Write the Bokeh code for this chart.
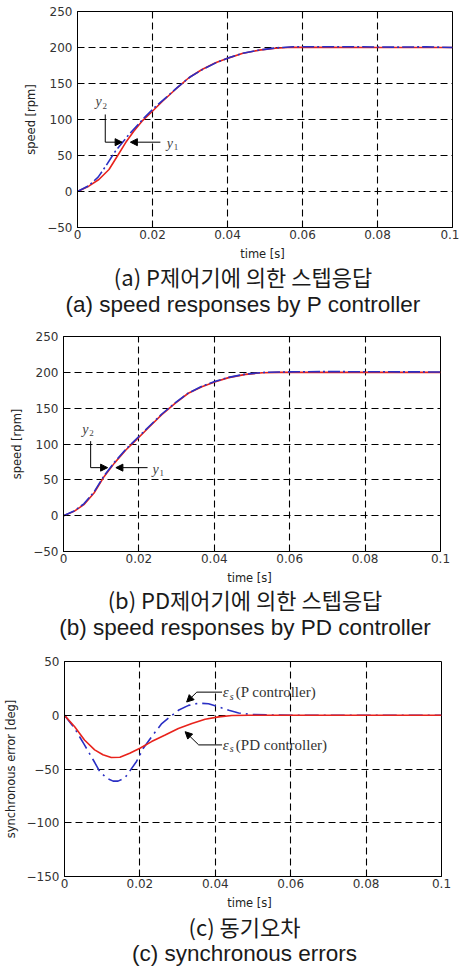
from bokeh.plotting import figure
from bokeh.models import Range1d, FixedTicker, Label, Arrow, NormalHead
from bokeh.embed import file_html
from bokeh.resources import INLINE

# ---------------- data ----------------
x_ticks = [0, 0.02, 0.04, 0.06, 0.08, 0.1]
x_tick_labels = ["0", "0.02", "0.04", "0.06", "0.08", "0.1"]
speed_ticks = [-50, 0, 50, 100, 150, 200, 250]
error_ticks = [-150, -100, -50, 0, 50]
x_title = "time [s]"

# (a) P controller: speed responses y1 (red) and y2 (blue)
a_t_y1 = [0, 0.003, 0.0057, 0.0084, 0.0106, 0.0128, 0.015, 0.0172, 0.0195, 0.0226,
          0.0261, 0.0297, 0.0332, 0.0368, 0.0404, 0.0439, 0.0484, 0.0528, 0.0572,
          0.065, 0.08, 0.1]
a_v_y1 = [0, 7.4, 16.7, 30.6, 49, 67.6, 83.8, 97.7, 109, 125,
          141.7, 158, 169.4, 178.7, 185.6, 191.7, 196.3, 199, 200.3,
          200.2, 200, 200]
a_t_y2 = [0, 0.003, 0.0055, 0.0075, 0.0101, 0.0137, 0.0177, 0.0204, 0.0235, 0.0265,
          0.03, 0.0335, 0.037, 0.0405, 0.044, 0.0485, 0.053, 0.0575, 0.065, 0.075,
          0.085, 0.093, 0.1]
a_v_y2 = [0, 8, 20, 35, 56, 79, 102, 116, 130, 144,
          159, 170, 179, 186, 192, 196.5, 199.5, 201, 201, 201,
          200.5, 201, 200]

# (b) PD controller: speed responses
b_t = [0, 0.0028, 0.0054, 0.0081, 0.0108, 0.0135, 0.0166, 0.0193, 0.0224, 0.026,
       0.0296, 0.0331, 0.0367, 0.0403, 0.0438, 0.0483, 0.0528, 0.0572, 0.07, 0.1]
b_v_y1 = [0, 6, 15.3, 31.6, 54.8, 73.3, 92, 105.8, 122, 140.6,
          156.8, 170.8, 180, 187, 192.6, 197.2, 199.5, 200, 200, 200]
b_v_y2 = [0, 6.5, 16.5, 33, 56, 74.5, 93, 107, 123, 141.5,
          157.5, 171, 180.5, 187.5, 193, 197.5, 199.8, 200.5, 201, 200.5]

# (c) synchronous errors
c_t_pd = [0, 0.0027, 0.0053, 0.008, 0.0102, 0.0124, 0.0147, 0.0173, 0.02, 0.0231,
          0.0267, 0.0302, 0.0338, 0.0373, 0.0409, 0.0444, 0.0489, 0.06, 0.1]
c_e_pd = [0, -10.7, -23, -32.2, -36.8, -39.3, -39, -35.3, -30.7, -24.5,
          -18.4, -12.3, -7.7, -3.7, -1.5, -0.3, 0, 0, 0]
c_t_p = [0, 0.0027, 0.0053, 0.0076, 0.0093, 0.0111, 0.0129, 0.0142, 0.016, 0.0173,
         0.0191, 0.0209, 0.0231, 0.0258, 0.028, 0.0302, 0.0329, 0.0356, 0.0382, 0.0409,
         0.0436, 0.0462, 0.0498, 0.055, 0.062, 0.1]
c_e_p = [0, -12.3, -27.6, -41.4, -52, -58.3, -61.3, -61.3, -58.3, -52,
         -43, -30.7, -20, -7.7, -1.5, 4.6, 9.2, 11.3, 10.7, 7.7,
         4.6, 2.1, 0.6, 0.3, 0, 0]

captions_a = ["(a) P제어기에 의한 스텝응답", "(a) speed responses by P controller"]
captions_b = ["(b) PD제어기에 의한 스텝응답", "(b) speed responses by PD controller"]
captions_c = ["(c) 동기오차", "(c) synchronous errors"]

RED = "#e8231c"
BLUE = "#2a2fc4"
TICK_FONT = "DejaVu Sans"


def make_fig(ylo, yhi, yticks, ylabel, left, fw, fh, top, bottom, right, lab_standoff):
    p = figure(frame_width=fw, frame_height=fh,
               x_range=Range1d(0, 0.1), y_range=Range1d(ylo, yhi),
               min_border_left=left, min_border_right=right,
               min_border_top=top, min_border_bottom=bottom,
               output_backend="svg", toolbar_location=None)
    p.outline_line_color = "black"
    p.outline_line_width = 1
    p.background_fill_color = "white"
    p.border_fill_color = "white"
    for ax in (p.xaxis[0], p.yaxis[0]):
        ax.axis_line_color = "black"
        ax.major_tick_in = 3
        ax.major_tick_out = 0
        ax.minor_tick_line_color = None
        ax.major_tick_line_color = "black"
        ax.major_label_text_font = TICK_FONT
        ax.major_label_text_font_size = "12px"
        ax.major_label_text_color = "#333333"
        ax.axis_label_text_font = TICK_FONT
        ax.axis_label_text_font_size = "11.5px"
        ax.axis_label_text_font_style = "normal"
        ax.axis_label_text_color = "#222222"
    p.xaxis.ticker = FixedTicker(ticks=x_ticks)
    p.xaxis.major_label_overrides = dict(zip(x_ticks, x_tick_labels))
    p.yaxis.ticker = FixedTicker(ticks=yticks)
    p.xaxis.major_label_standoff = 2
    p.yaxis.major_label_standoff = 5
    p.yaxis.axis_label = ylabel
    p.yaxis.axis_label_standoff = lab_standoff
    p.xgrid.ticker = FixedTicker(ticks=x_ticks)
    p.ygrid.ticker = FixedTicker(ticks=yticks)
    for g in (p.xgrid[0], p.ygrid[0]):
        g.grid_line_color = "black"
        g.grid_line_dash = "7 4"
        g.grid_line_width = 1.1
        g.grid_line_alpha = 1.0
    return p


def caption_fig(lines, xt, cx, h, yt, y1, y2):
    # strip below each panel: x-axis title and the two caption lines
    c = figure(width=459, height=h, x_range=Range1d(0, 459), y_range=Range1d(h, 0),
               x_axis_type=None, y_axis_type=None, min_border=0,
               output_backend="svg", toolbar_location=None)
    c.outline_line_color = None
    c.xgrid.visible = False
    c.ygrid.visible = False
    c.background_fill_color = "white"
    c.border_fill_color = "white"
    ko, en = lines
    c.add_layout(Label(x=xt, y=yt, text=x_title, text_align="center", text_baseline="middle",
                       text_font=TICK_FONT, text_font_size="11.5px", text_color="#222222"))
    c.add_layout(Label(x=cx, y=y1, text=ko, text_align="center", text_baseline="middle",
                       text_font="Noto Sans CJK KR", text_font_size="22px",
                       text_color="#1a1a1a"))
    c.add_layout(Label(x=cx, y=y2, text=en, text_align="center", text_baseline="middle",
                       text_font="Liberation Sans", text_font_size="22.5px",
                       text_color="#1a1a1a"))
    return c


def sym(p, x, y, main, sub, size=14):
    p.add_layout(Label(x=x, y=y, text=main, text_align="left", text_baseline="middle",
                       text_font="Liberation Serif", text_font_style="italic",
                       text_font_size=f"{size}px", text_color="#444444"))
    p.add_layout(Label(x=x, y=y, x_offset=size * 0.5, y_offset=-4, text=sub,
                       text_align="left", text_baseline="middle",
                       text_font="Liberation Serif", text_font_size=f"{int(size*0.7)}px",
                       text_color="#444444"))


def arrow(p, x0, y0, x1, y1, head=True):
    p.add_layout(Arrow(end=NormalHead(size=7, fill_color="black", line_color="black") if head else None,
                       x_start=x0, y_start=y0, x_end=x1, y_end=y1,
                       line_color="black", line_width=1))


# ---------- (a) ----------
pa = make_fig(-50, 250, speed_ticks, "speed [rpm]", 77, 375, 216, 11, 17, 7, 6)
pa.line(a_t_y1, a_v_y1, line_color=RED, line_width=1.6)
pa.line(a_t_y2, a_v_y2, line_color=BLUE, line_width=1.6, line_dash="12 3 2 3")
sym(pa, 0.0048, 125, "y", "2")
arrow(pa, 0.0074, 107, 0.0074, 68.5, head=False)
arrow(pa, 0.0074, 68.5, 0.0119, 68.5)
arrow(pa, 0.0221, 68.5, 0.0141, 68.5)
sym(pa, 0.0238, 67, "y", "1")
ca = caption_fig(captions_a, 262, 242.5, 74, 9, 31, 60)

# ---------- (b) ----------
pb = make_fig(-50, 250, speed_ticks, "speed [rpm]", 63, 377, 215, 18, 17, 11, 6)
pb.line(b_t, b_v_y1, line_color=RED, line_width=1.6)
pb.line(b_t, b_v_y2, line_color=BLUE, line_width=1.6, line_dash="12 3 2 3")
sym(pb, 0.005, 120.5, "y", "2")
arrow(pb, 0.0072, 104, 0.0072, 67, head=False)
arrow(pb, 0.0072, 67, 0.0117, 67)
arrow(pb, 0.0223, 67, 0.0139, 67)
sym(pb, 0.0236, 65, "y", "1")
cb = caption_fig(captions_b, 249, 244.5, 72, 9, 30.5, 59)

# ---------- (c) ----------
pc = make_fig(-150, 50, error_ticks, "synchronous error [deg]", 63, 377, 215, 21, 17, 11, 6)
pc.line(c_t_p, c_e_p, line_color=BLUE, line_width=1.6, line_dash="14 5 2 5")
pc.line(c_t_pd, c_e_pd, line_color=RED, line_width=1.6)
arrow(pc, 0.0418, 21.5, 0.0351, 21.5, head=False)
arrow(pc, 0.0351, 21.5, 0.0324, 12.3)
arrow(pc, 0.0418, -27.6, 0.0356, -27.6, head=False)
arrow(pc, 0.0356, -27.6, 0.032, -15.3)
for yy, txt in ((21.5, "(P controller)"), (-27.6, "(PD controller)")):
    pc.add_layout(Label(x=0.042, y=yy, text="ε", text_align="left", text_baseline="middle",
                        text_font="Liberation Serif", text_font_style="italic",
                        text_font_size="15px", text_color="#333333"))
    pc.add_layout(Label(x=0.042, y=yy, x_offset=7, y_offset=-4, text="s", text_align="left",
                        text_baseline="middle", text_font="Liberation Serif",
                        text_font_style="italic", text_font_size="10px", text_color="#333333"))
    pc.add_layout(Label(x=0.042, y=yy, x_offset=13, text=txt, text_align="left",
                        text_baseline="middle", text_font="Liberation Serif",
                        text_font_size="15px", text_color="#333333"))
cc = caption_fig(captions_c, 249, 244, 73, 9, 32, 60)

open("out.html", "w").write(file_html([pa, ca, pb, cb, pc, cc], INLINE))
